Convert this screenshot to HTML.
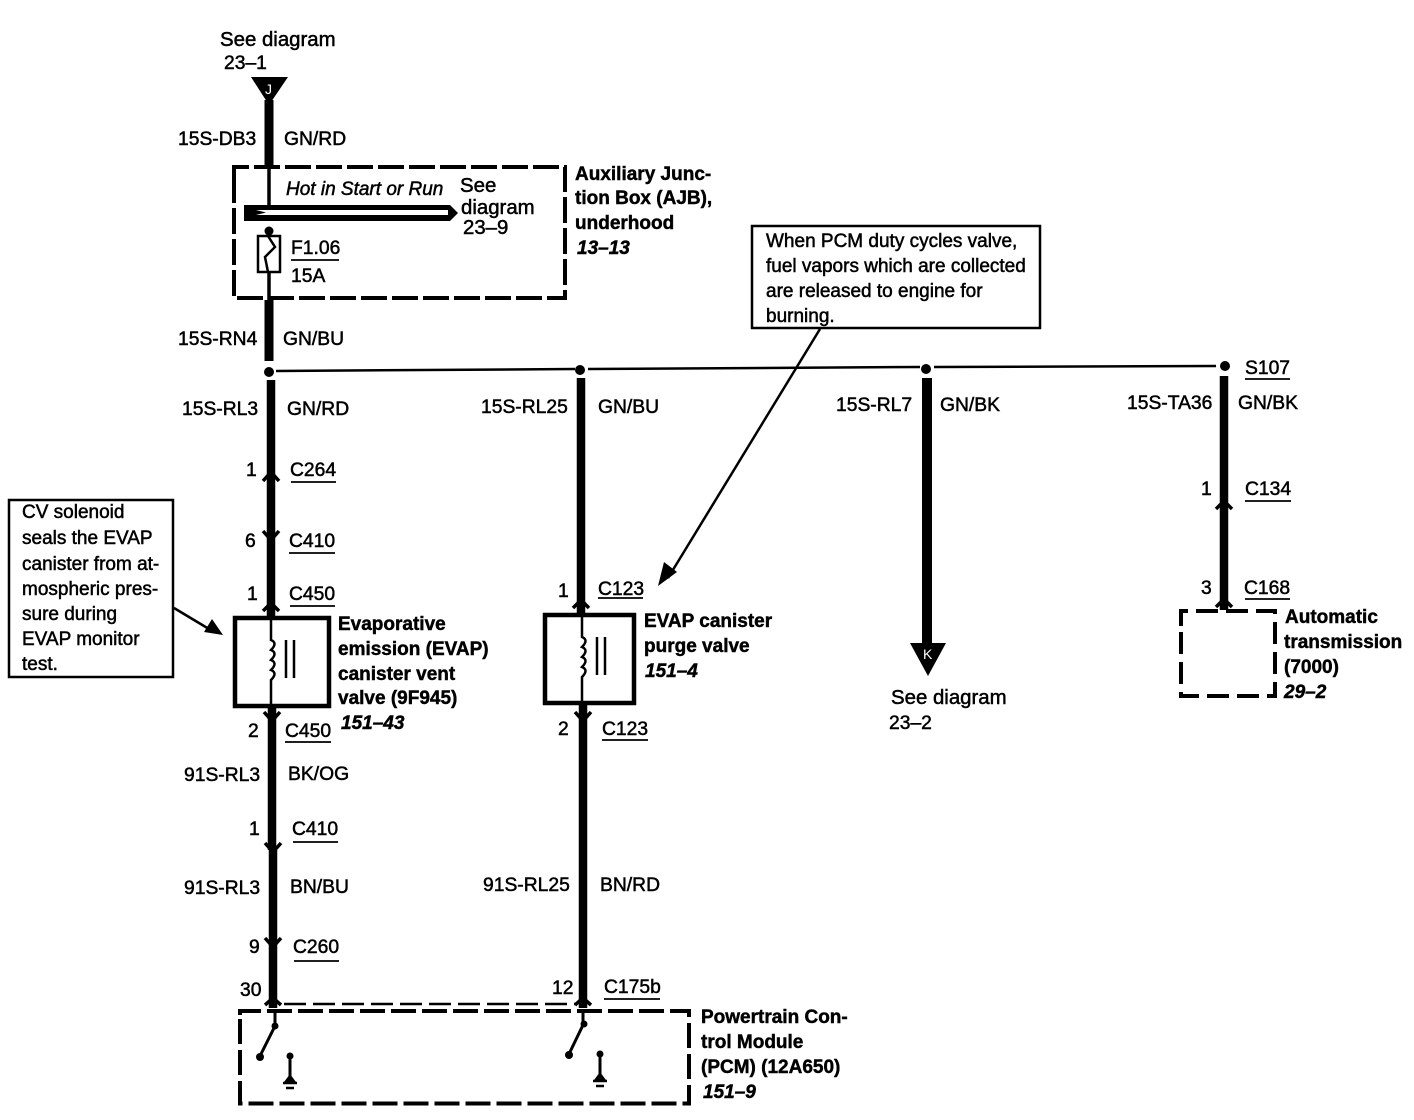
<!DOCTYPE html>
<html><head><meta charset="utf-8"><style>
html,body{margin:0;padding:0;background:#fff}
svg{display:block}
text{font-family:"Liberation Sans",sans-serif;font-size:19.3px;fill:#000;stroke:#000;stroke-width:.5px}
.w{font-size:20.4px}
.n{font-size:19px}
.b{font-weight:bold;font-size:19px;stroke-width:.45px}
.i{font-weight:bold;font-style:italic;font-size:19px}
</style></head><body>
<svg width="1414" height="1120" viewBox="0 0 1414 1120" xmlns="http://www.w3.org/2000/svg">
<rect width="1414" height="1120" fill="#fff"/>
<!-- Wires -->
<g fill="none" stroke="#000">
<path d="M269 100V168" stroke-width="9"/>
<path d="M269 168V206M269 228V236M269 272V300" stroke-width="3.5"/>
<path d="M269 300V361" stroke-width="9"/>
<path d="M271 380V617" stroke-width="8.5"/>
<path d="M272 708V850" stroke-width="8.5"/>
<path d="M273 850V1008" stroke-width="8.5"/>
<path d="M581 378V614" stroke-width="8.5"/>
<path d="M583 704V1008" stroke-width="8.5"/>
<path d="M927 378V650" stroke-width="10"/>
<path d="M1224 376V610" stroke-width="8.5"/>
<path d="M276 371L575 369M588 369L920 367M934 367L1216 366" stroke-width="2.5"/>
<!-- dashed boxes -->
<path d="M234 178V167H565V298H234V178" stroke-width="4" stroke-dasharray="26 5"/>
<path d="M240 1015V1011H689V1103.5H240V1015" stroke-width="4" stroke-dasharray="25 6"/>
<path d="M284 1004H575" stroke-width="2.5" stroke-dasharray="22 7"/>
<path d="M1181 626V611H1275V696H1181V626" stroke-width="4" stroke-dasharray="22 8"/>
<!-- component boxes -->
<rect x="235" y="618" width="94" height="88" stroke-width="4.5"/>
<rect x="545" y="615" width="89" height="88" stroke-width="4.5"/>
<!-- coils -->
<path d="M271 619V640q7 3 0 10q7 3 0 10q7 3 0 10q7 3 0 10V706" stroke-width="2.5"/>
<path d="M286 640V678M294 640V678" stroke-width="2.5"/>
<path d="M582 617V637q7 3 0 10q7 3 0 10q7 3 0 10q7 3 0 10V703" stroke-width="2.5"/>
<path d="M597 637V675M605 637V675" stroke-width="2.5"/>
<!-- fuse -->
<rect x="258" y="236" width="22" height="36" stroke-width="2.5"/>
<path d="M268 236L275 247L265 257L268 272" stroke-width="2.5"/>
<!-- callout lines -->
<rect x="9" y="500" width="164" height="177" stroke-width="2.5"/>
<rect x="752" y="226" width="288" height="102" stroke-width="2.5"/>
<path d="M174 608L214 632" stroke-width="2.5"/>
<path d="M820 329L668 578" stroke-width="2.5"/>
<!-- switches -->
<path d="M275 1012V1026L260 1056" stroke-width="3"/>
<path d="M583 1012V1025L569 1054" stroke-width="3"/>
<path d="M290 1056V1078M600 1054V1076" stroke-width="3"/>
<path d="M283 1083H297M286 1088H294" stroke-width="2.5"/>
<path d="M593 1081H607M596 1086H604" stroke-width="2.5"/>
<!-- connector chevrons -->
<path d="M263 481L271 472L279 481M263 531L271 540L279 531M263 611L271 603L279 611M264 712L272 721L280 712" stroke-width="3.5"/>
<path d="M265 843L273 852L281 843M265 938L273 947L281 938M265 1005L273 998L281 1005" stroke-width="3.5"/>
<path d="M573 608L581 600L589 608M575 712L583 721L591 712M575 1005L583 998L591 1005" stroke-width="3.5"/>
<path d="M1216 509L1224 501L1232 509M1216 607L1224 599L1232 607" stroke-width="3.5"/>
<!-- underlines -->
<g stroke-width="1.8">
<path d="M291 260H339M291 482H336M289 553H335M290 606H335M285 742H331M294 961H339"/>
<path d="M598 598H643M602 740H648M604 999H660M1245 379H1290M1245 501H1291M1245 599H1290M293 842H338"/>
</g>
</g>
<!-- bus bar -->
<path d="M244 205H450L458 213L450 221H244Z" fill="#000"/>
<path d="M256 210H448V215H256L266 212.5Z" fill="#fff"/>
<!-- dots -->
<g fill="#000">
<circle cx="269" cy="372" r="5"/><circle cx="580" cy="370" r="5"/><circle cx="926" cy="369" r="5"/><circle cx="1225" cy="366" r="5"/>
<circle cx="269" cy="231" r="4.5"/>
<circle cx="275" cy="1026" r="3.5"/><circle cx="260" cy="1057" r="4"/><circle cx="290" cy="1056" r="3.5"/>
<circle cx="584" cy="1024" r="3.5"/><circle cx="569" cy="1055" r="4"/><circle cx="600" cy="1054" r="3.5"/>
<path d="M251 77H288L269 105Z"/>
<path d="M910 643H946L928 676Z"/>
<path d="M223 635L204 632L212 619Z"/>
<path d="M658 586L664 562L677 572Z"/>
<path d="M284 1082H296L290 1074Z M594 1080H606L600 1072Z"/>
</g>
<text x="265" y="94" style="fill:#fff;stroke:none;font-size:14px">J</text>
<text x="923" y="659" style="fill:#fff;stroke:none;font-size:14px">K</text>
<!-- Text -->
<text class="w" x="220" y="46">See diagram</text><text x="224" y="69">23–1</text>
<text x="178" y="145">15S-DB3</text><text x="284" y="145">GN/RD</text>
<text class="n" x="286" y="195" font-style="italic">Hot in Start or Run</text>
<text class="w" x="460" y="192">See</text><text class="w" x="461" y="214">diagram</text><text class="w" x="463" y="234">23–9</text>
<text x="291" y="254">F1.06</text><text x="291" y="282">15A</text>
<text class="b" x="575" y="180">Auxiliary Junc-</text><text class="b" x="575" y="204">tion Box (AJB),</text><text class="b" x="575" y="229">underhood</text><text class="i" x="577" y="254">13–13</text>
<text class="n" x="766" y="247">When PCM duty cycles valve,</text><text class="n" x="766" y="272">fuel vapors which are collected</text><text class="n" x="766" y="297">are released to engine for</text><text class="n" x="766" y="322">burning.</text>
<text x="178" y="345">15S-RN4</text><text x="283" y="345">GN/BU</text>
<text x="182" y="415">15S-RL3</text><text x="287" y="415">GN/RD</text>
<text x="481" y="413">15S-RL25</text><text x="598" y="413">GN/BU</text>
<text x="836" y="411">15S-RL7</text><text x="940" y="411">GN/BK</text>
<text x="1127" y="409">15S-TA36</text><text x="1238" y="409">GN/BK</text>
<text x="1245" y="374">S107</text>
<text x="246" y="476">1</text><text x="290" y="476">C264</text>
<text x="245" y="547">6</text><text x="289" y="547">C410</text>
<text x="247" y="600">1</text><text x="289" y="600">C450</text>
<text x="558" y="597">1</text><text x="598" y="595">C123</text>
<text x="1201" y="495">1</text><text x="1245" y="495">C134</text>
<text x="1201" y="594">3</text><text x="1244" y="594">C168</text>
<text class="n" x="22" y="518">CV solenoid</text><text class="n" x="22" y="544">seals the EVAP</text><text class="n" x="22" y="570">canister from at-</text><text class="n" x="22" y="595">mospheric pres-</text><text class="n" x="22" y="620">sure during</text><text class="n" x="22" y="645">EVAP monitor</text><text class="n" x="22" y="670">test.</text>
<text class="b" x="338" y="630">Evaporative</text><text class="b" x="338" y="655">emission (EVAP)</text><text class="b" x="338" y="680">canister vent</text><text class="b" x="338" y="704">valve (9F945)</text><text class="i" x="341" y="729">151–43</text>
<text class="b" x="644" y="627">EVAP canister</text><text class="b" x="644" y="652">purge valve</text><text class="i" x="645" y="677">151–4</text>
<text class="w" x="891" y="704">See diagram</text><text x="889" y="729">23–2</text>
<text class="b" x="1285" y="623">Automatic</text><text class="b" x="1284" y="648">transmission</text><text class="b" x="1284" y="673">(7000)</text><text class="i" x="1284" y="698">29–2</text>
<text x="248" y="737">2</text><text x="285" y="737">C450</text>
<text x="558" y="735">2</text><text x="602" y="735">C123</text>
<text x="184" y="781">91S-RL3</text><text x="288" y="780">BK/OG</text>
<text x="249" y="835">1</text><text x="292" y="835">C410</text>
<text x="184" y="894">91S-RL3</text><text x="290" y="893">BN/BU</text>
<text x="483" y="891">91S-RL25</text><text x="600" y="891">BN/RD</text>
<text x="249" y="953">9</text><text x="293" y="953">C260</text>
<text x="240" y="996">30</text><text x="552" y="994">12</text><text x="604" y="993">C175b</text>
<text class="b" x="701" y="1023">Powertrain Con-</text><text class="b" x="701" y="1048">trol Module</text><text class="b" x="701" y="1073">(PCM) (12A650)</text><text class="i" x="703" y="1098">151–9</text>
</svg>
</body></html>
